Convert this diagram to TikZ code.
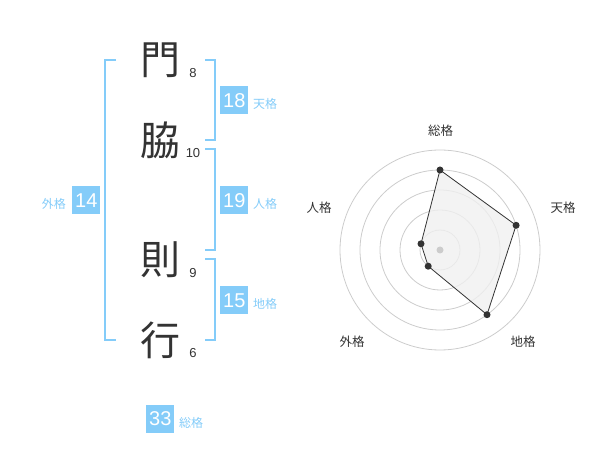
\documentclass[tikz,border=0pt]{standalone}
\usepackage{fontspec}
\setmainfont{Noto Sans CJK JP}
\newfontfamily\numfont{Liberation Sans}
\definecolor{kblue}{HTML}{84CCF9}
\definecolor{kdark}{HTML}{333333}
\definecolor{kring}{HTML}{CCCCCC}
\definecolor{kfill}{HTML}{F0F0F0}
\begin{document}
\begin{tikzpicture}[x=1pt,y=-1pt,
  kanji/.style={font=\fontsize{40}{40}\selectfont, text=kdark, inner sep=0pt},
  stroke/.style={font=\numfont\fontsize{13}{13}\selectfont, text=kdark, inner sep=0pt},
  numbox/.style={fill=kblue, text=white, minimum width=28pt, minimum height=28pt, inner sep=0pt, font=\numfont\fontsize{20}{20}\selectfont},
  kaku/.style={text=kblue, font=\fontsize{12}{12}\selectfont, inner sep=0pt},
  bracket/.style={draw=kblue, line width=2pt},
  rlabel/.style={text=kdark, font=\fontsize{12.5}{12.5}\selectfont, inner sep=0pt},
  ring/.style={draw=kring, line width=0.8pt},
  pt/.style={circle, inner sep=0pt, minimum size=7pt}
]
\useasboundingbox (0,0) rectangle (600,470);
% kanji
\node[kanji] (k1) at (160,60) {門};
\node[kanji] (k2) at (160,140) {脇};
\node[kanji] (k3) at (160,260) {則};
\node[kanji] (k4) at (160,340) {行};
% stroke counts
\node[stroke] (s1) at (193,73) {8};
\node[stroke] (s2) at (193,153) {10};
\node[stroke] (s3) at (193,273) {9};
\node[stroke] (s4) at (193,353) {6};
% brackets
\draw[bracket] (116,60) -- (105,60) -- (105,340) -- (116,340);
\draw[bracket] (205,60) -- (214.5,60) -- (214.5,140) -- (205,140);
\draw[bracket] (205,149.5) -- (214.5,149.5) -- (214.5,250) -- (205,250);
\draw[bracket] (205,259.5) -- (214.5,259.5) -- (214.5,340) -- (205,340);
% boxes
\node[numbox] (b18) at (234.3,100.3) {18};
\node[kaku, anchor=west] (l18) at (253,104) {天格};
\node[numbox] (b19) at (234.3,200.3) {19};
\node[kaku, anchor=west] (l19) at (253,204) {人格};
\node[numbox] (b15) at (234.3,300.3) {15};
\node[kaku, anchor=west] (l15) at (253,304) {地格};
\node[numbox] (b14) at (86.3,200.3) {14};
\node[kaku, anchor=east] (l14) at (66,204) {外格};
\node[numbox] (b33) at (160.3,419) {33};
\node[kaku, anchor=west] (l33) at (179,422.5) {総格};
% radar
\coordinate (c) at (440,250);
\foreach \r in {20,40,60,80,100} \draw[ring] (c) circle (\r);
\node[pt] (p1) at (440,170) {};
\node[pt] (p2) at (516.1,225.3) {};
\node[pt] (p3) at (487,314.7) {};
\node[pt] (p4) at (428.2,266.2) {};
\node[pt] (p5) at (421,243.8) {};
\fill[kfill, fill opacity=0.8] (p1.center) -- (p2.center) -- (p3.center) -- (p4.center) -- (p5.center) -- cycle;
\fill[kring] (c) circle (3.5);
\draw[kdark, line width=0.8pt] (p1.center) -- (p2.center) -- (p3.center) -- (p4.center) -- (p5.center) -- cycle;
\foreach \p in {p1,p2,p3,p4,p5} \fill[kdark] (\p.center) circle (3.5);
\node[rlabel] (r1) at (440.7,130.7) {総格};
\node[rlabel] (r2) at (563,208) {天格};
\node[rlabel] (r3) at (523,342) {地格};
\node[rlabel] (r4) at (352,342) {外格};
\node[rlabel] (r5) at (319,208) {人格};
\end{tikzpicture}
\end{document}
